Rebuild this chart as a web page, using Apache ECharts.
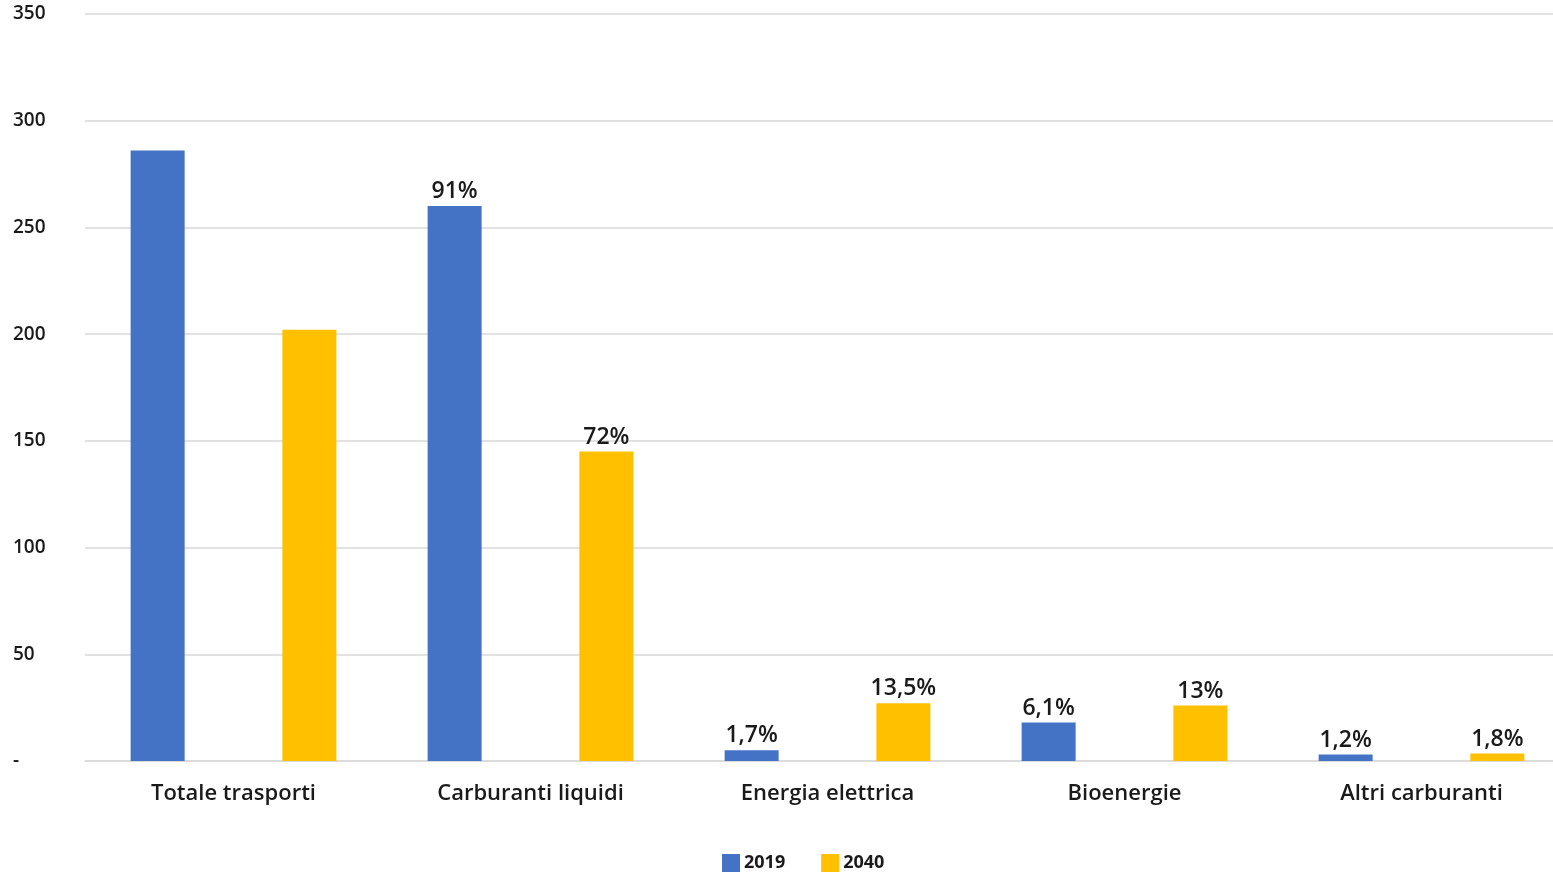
<!DOCTYPE html>
<html>
<head>
<meta charset="utf-8">
<script src="https://cdn.jsdelivr.net/npm/echarts@6/dist/echarts.min.js"></script>
<style>
  html, body { margin: 0; padding: 0; background: #fff; }
  #chart { width: 1553px; height: 872px; }
</style>
</head>
<body>
<div id="chart"></div>
<script>
var categories = ["Totale trasporti", "Carburanti liquidi", "Energia elettrica", "Bioenergie", "Altri carburanti"];
var values2019 = [286, 260, 5, 18, 3];
var values2040 = [202, 145, 27, 26, 3.5];
var labels2019 = ["", "91%", "1,7%", "6,1%", "1,2%"];
var labels2040 = ["", "72%", "13,5%", "13%", "1,8%"];
var yTicks = { 0: "-", 50: "50", 100: "100", 150: "150", 200: "200", 250: "250", 300: "300", 350: "350" };

var mychart = echarts.init(document.getElementById("chart"));
var labelStyle = {
  show: true,
  position: "top",
  distance: 3,
  color: "#1a1a1a",
  fontFamily: "Open Sans",
  fontWeight: 600,
  fontSize: 23,
};
var option = {
  animation: false,
  textStyle: { fontFamily: "Open Sans" },
  grid: { left: 85, width: 1485, top: 14, bottom: 111, containLabel: false, outerBoundsMode: "none" },
  legend: {
    top: 849,
    left: 717,
    itemWidth: 18,
    itemHeight: 18,
    itemGap: 36,
    icon: "rect",
    textStyle: { fontSize: 18, fontWeight: "bold", color: "#1a1a1a", fontFamily: "Open Sans", padding: [0, 0, 0, -1] },
    data: ["2019", "2040"],
  },
  xAxis: {
    type: "category",
    data: categories,
    axisLine: { lineStyle: { color: "#d9d9d9", width: 1.5 } },
    axisTick: { show: false },
    axisLabel: { fontSize: 22, fontWeight: 600, color: "#1a1a1a", margin: 22, fontFamily: "Open Sans" },
  },
  yAxis: {
    type: "value",
    min: 0,
    max: 350,
    interval: 50,
    axisLine: { show: false },
    axisTick: { show: false },
    splitLine: { lineStyle: { color: "#d9d9d9", width: 1.5 } },
    axisLabel: {
      fontSize: 19,
      color: "#1a1a1a",
      fontWeight: 600,
      align: "left",
      margin: 72,
      fontFamily: "Open Sans",
      formatter: function (v) { return yTicks[v]; },
    },
  },
  series: [
    {
      name: "2019",
      type: "bar",
      data: values2019,
      barWidth: 54,
      barGap: "181%",
      itemStyle: { color: "#4472C4" },
      label: Object.assign({}, labelStyle, {
        formatter: function (p) { return labels2019[p.dataIndex]; },
      }),
    },
    {
      name: "2040",
      type: "bar",
      data: values2040,
      barWidth: 54,
      barGap: "181%",
      itemStyle: { color: "#FFC000" },
      label: Object.assign({}, labelStyle, {
        formatter: function (p) { return labels2040[p.dataIndex]; },
      }),
    },
  ],
};
mychart.setOption(option, true);
</script>
</body>
</html>
